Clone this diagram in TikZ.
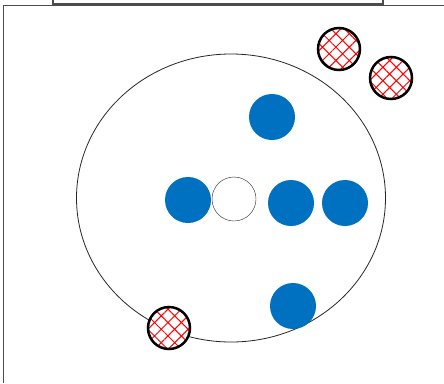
\documentclass[tikz,border=0pt]{standalone}
\usetikzlibrary{patterns.meta}
\definecolor{dotblue}{RGB}{0,112,192}

\begin{document}
\begin{tikzpicture}[x=1pt, y=-1pt,
	bluedot/.style={circle, fill=dotblue, minimum size=46pt, inner sep=0pt},
	holedot/.style={circle, draw=black!85, fill=white, minimum size=44pt, inner sep=0pt},
	hatchdot/.style={circle, draw=black, line width=2.5pt, minimum size=42pt, inner sep=0pt,
		preaction={fill=white},
		pattern={Hatch[angle=45, distance=9.5pt, line width=1pt]}, pattern color=red}]
	\useasboundingbox (0,0) rectangle (444,383);
	% frame
	\draw [black!70, line width=1.2pt] (53,-5) rectangle (383,4);
	\draw [black!70, line width=1pt] (3,383) -- (3,5.5) -- (444,5.5);
	% field
	\draw [black!85, line width=0.8pt] (231,198) ellipse [x radius=154.5, y radius=144];
	% blue dots
	\node [bluedot] (top) at (272,117) {};
	\node [bluedot] (left) at (188,200) {};
	\node [holedot] (hole) at (234,199) {};
	\node [bluedot] (midright) at (291,203) {};
	\node [bluedot] (right) at (345,203) {};
	\node [bluedot] (bottom) at (293,306) {};
	% hatched dots
	\node [hatchdot] (hatcha) at (339,49) {};
	\node [hatchdot] (hatchb) at (391,78) {};
	\node [hatchdot] (hatchc) at (169,328) {};
\end{tikzpicture}
\end{document}
